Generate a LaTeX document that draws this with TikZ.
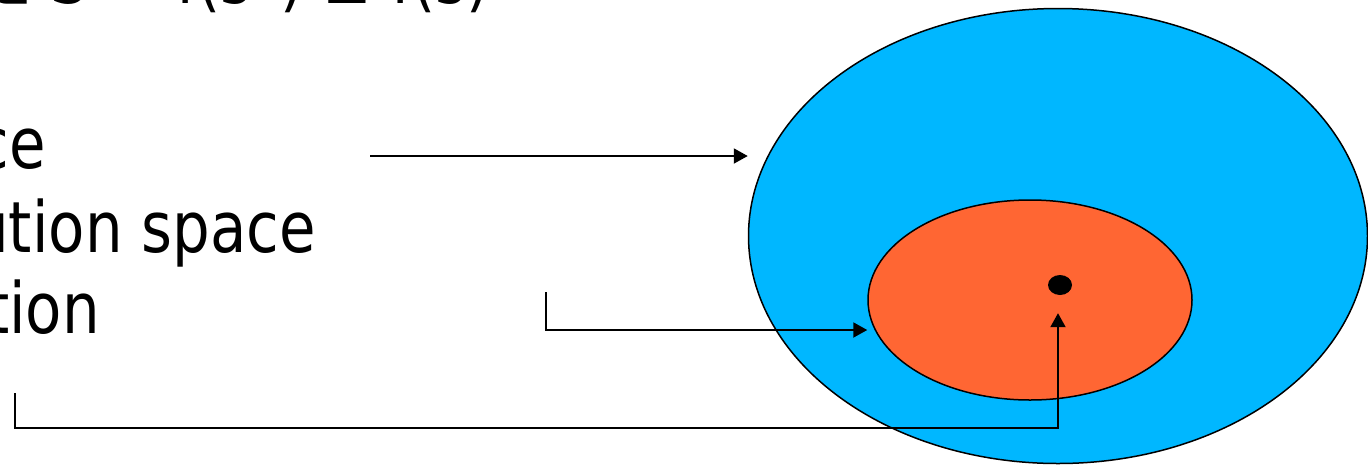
\documentclass[tikz,border=0pt]{standalone}
\usepackage{fontspec}
\usetikzlibrary{shapes.geometric,arrows.meta}
\newfontfamily\slidefont[FakeStretch=0.84]{DejaVu Sans}
\definecolor{spaceblue}{RGB}{0,183,255}
\definecolor{feasorange}{RGB}{255,102,51}
\tikzset{
  region/.style={ellipse, draw=black, line width=1.5pt, inner sep=0pt},
  link/.style={draw=black, line width=2pt, -{Triangle[length=14pt,width=15pt]}},
  itemtext/.style={font=\slidefont\fontsize{70.7pt}{85pt}\selectfont, inner sep=0pt, anchor=base east},
}
\begin{document}
\begin{tikzpicture}[x=1pt,y=-1pt]
\useasboundingbox (0,0) rectangle (1368,464);

% nested regions: search space, feasible space, optimum
\node[region, fill=spaceblue, minimum width=619pt, minimum height=455pt] (search) at (1058,236) {};
\node[region, fill=feasorange, minimum width=324pt, minimum height=200pt] (feasible) at (1030,300) {};
\node[ellipse, fill=black, minimum width=24pt, minimum height=20pt, inner sep=0pt] (optimum) at (1060,285) {};

% text lines
\node[itemtext] (top) at (490,3) {s ∈ S ⇒ f(s*) ≤ f(s)};
\node[itemtext] (l1) at (46,168) {ce};
\node[itemtext] (l2) at (316,252) {ution space};
\node[itemtext] (l3) at (100,333) {tion};

% pointers
\coordinate (s1) at (370,156);
\draw[link] (s1) -- (s1 -| search.west);

\coordinate (s2) at (546,292);
\coordinate (k2) at (546,330);
\draw[link] (s2) -- (k2) -- (k2 -| feasible.west);

\coordinate (s3) at (15,393);
\coordinate (k3) at (15,428);
\coordinate (k3b) at (1058,428);
\draw[link, shorten >=18pt] (s3) -- (k3) -- (k3b) -- (k3b |- optimum.south);
\end{tikzpicture}
\end{document}
